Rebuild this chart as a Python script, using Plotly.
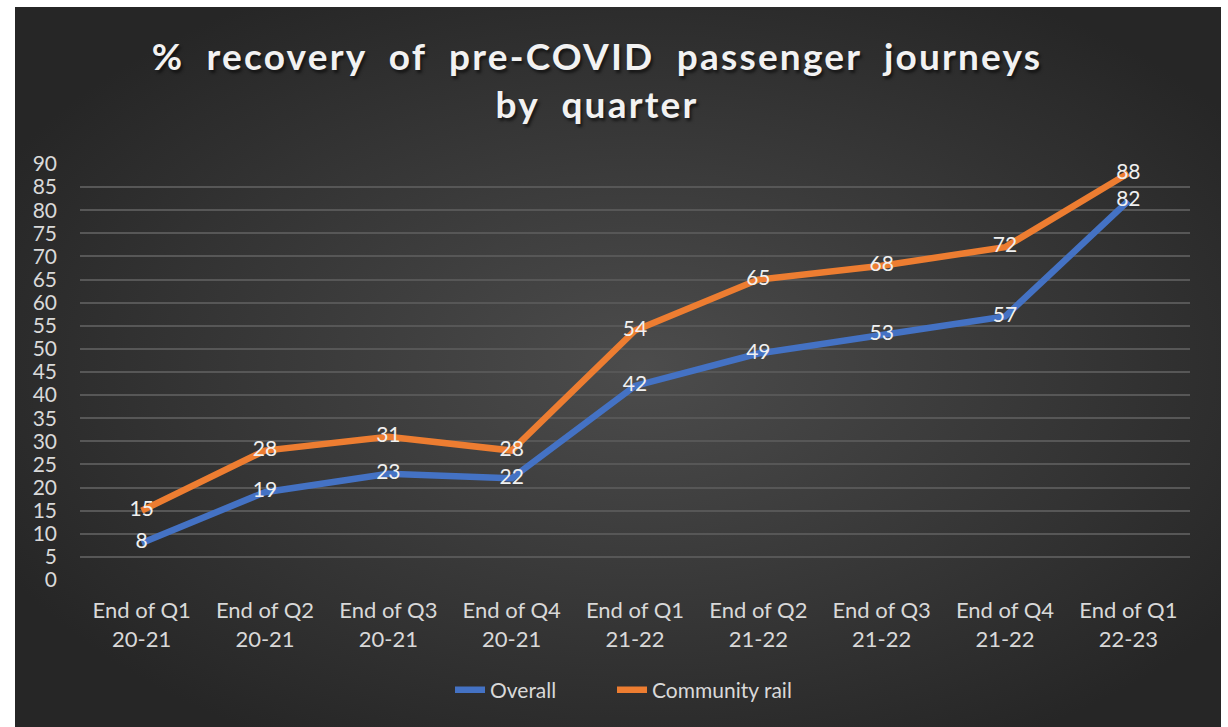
import plotly.graph_objects as go
from urllib.parse import quote

categories = ["End of Q1<br>20-21", "End of Q2<br>20-21", "End of Q3<br>20-21", "End of Q4<br>20-21",
              "End of Q1<br>21-22", "End of Q2<br>21-22", "End of Q3<br>21-22", "End of Q4<br>21-22",
              "End of Q1<br>22-23"]
overall = [8, 19, 23, 22, 42, 49, 53, 57, 82]
community_rail = [15, 28, 31, 28, 54, 65, 68, 72, 88]
y_ticks = list(range(0, 95, 5))

W, H = 1228, 727
ml, mr, mt, mb = 80, 38, 164, 147
pw, ph = W - ml - mr, H - mt - mb

svg = ('<svg xmlns="http://www.w3.org/2000/svg" width="1206" height="720" preserveAspectRatio="none">'
       '<defs><radialGradient id="g" cx="52%" cy="50%" r="60%">'
       '<stop offset="0" stop-color="#4c4c4c"/><stop offset="1" stop-color="#262626"/>'
       '</radialGradient></defs><rect width="1206" height="720" fill="url(#g)"/></svg>')
bg_src = "data:image/svg+xml;utf8," + quote(svg)

fnt = "Lato, 'Open Sans', sans-serif"

fig = go.Figure()
fig.add_trace(go.Scatter(x=categories, y=overall, name="Overall", mode="lines+text",
                         line=dict(color="#4472C4", width=6.5), text=[str(v) for v in overall],
                         textposition="middle center", textfont=dict(color="#f0f0f0", size=21, family=fnt),
                         cliponaxis=False, legend="legend"))
fig.add_trace(go.Scatter(x=categories, y=community_rail, name="Community rail", mode="lines+text",
                         line=dict(color="#ED7D31", width=6.5), text=[str(v) for v in community_rail],
                         textposition="middle center", textfont=dict(color="#f0f0f0", size=21, family=fnt),
                         cliponaxis=False, legend="legend2"))

x0 = (15 - ml) / pw
x1 = (1221 - ml) / pw
y0 = (H - mb - 7) / ph
y1 = (H - mb - 727) / ph

leg_common = dict(orientation="h", y=(580 - 690) / ph, yanchor="middle", xanchor="left",
                  font=dict(size=21, color="#d9d9d9"), bgcolor="rgba(0,0,0,0)")

fig.update_layout(
    width=W, height=H,
    margin=dict(l=ml, r=mr, t=mt, b=mb),
    paper_bgcolor="white", plot_bgcolor="rgba(0,0,0,0)",
    images=[dict(source=bg_src, xref="paper", yref="paper", x=x0, y=y0,
                 sizex=x1 - x0, sizey=y0 - y1, xanchor="left", yanchor="top",
                 sizing="stretch", layer="below")],
    title=dict(text="<b>%  recovery  of  pre-COVID  passenger  journeys<br>by  quarter</b>",
               x=597 / W, xref="container", xanchor="center",
               y=1 - 70 / H, yref="container", yanchor="middle",
               font=dict(family=fnt, size=37, color="#f2f2f2",
                         shadow="2px 3px 3px rgba(0,0,0,0.55)")),
    font=dict(family=fnt, color="#d9d9d9", size=18),
    xaxis=dict(type="category", showgrid=False, showline=False, zeroline=False,
               tickfont=dict(size=22, color="#d9d9d9"), ticks="", ticklabelstandoff=15,
               range=[-0.5, len(categories) - 0.5]),
    yaxis=dict(range=[0, 90], tickvals=y_ticks, showgrid=True, gridcolor="#575757", gridwidth=1.5,
               zeroline=False, showline=False, ticks="",
               tickfont=dict(size=21, color="#d9d9d9"), ticklabelstandoff=22),
    legend=dict(x=(450 - ml) / pw, **leg_common),
    legend2=dict(x=(612 - ml) / pw, **leg_common),
    showlegend=True,
)

post = ("document.body.style.margin='0';"
        "var t=document.querySelector('#{plot_id} .gtitle');"
        "if(t){t.style.letterSpacing='2.2px';}")
fig.write_html("out.html", post_script=post, config={"displayModeBar": False})
